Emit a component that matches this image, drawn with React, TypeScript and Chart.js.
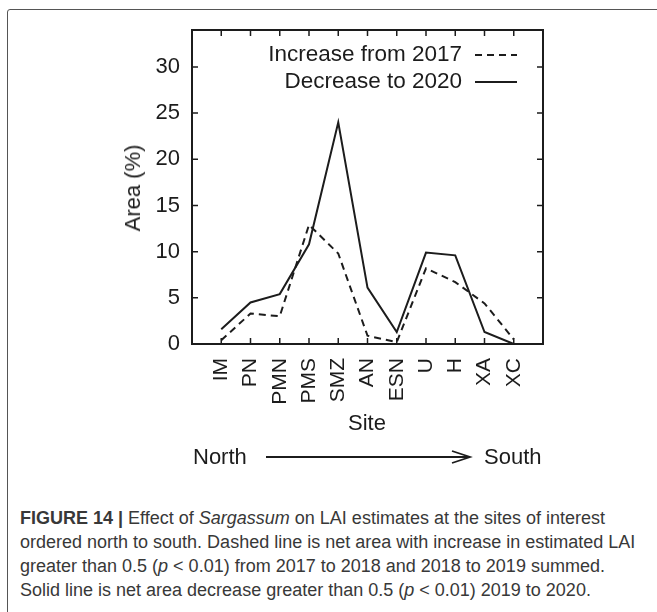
import React, { useEffect, useRef } from "react";
import { Chart, registerables } from "chart.js";

Chart.register(...registerables);

const sites = ["IM", "PN", "PMN", "PMS", "SMZ", "AN", "ESN", "U", "H", "XA", "XC"];
const increaseFrom2017 = [0.4, 3.3, 3.0, 12.9, 9.8, 0.9, 0.2, 8.2, 6.7, 4.4, 0.5];
const decreaseTo2020 = [1.6, 4.5, 5.4, 10.8, 24.0, 6.1, 1.3, 9.9, 9.6, 1.3, 0.0];
const yTicks = [0, 5, 10, 15, 20, 25, 30];
const legendLabels = ["Increase from 2017", "Decrease to 2020"];

const FONT = "'Liberation Sans', Arial, sans-serif";
const INK = "#1c1c1c";

const framePlugin = {
  id: "framePlugin",
  afterDraw(chart: any) {
    const { ctx, chartArea } = chart;
    const xs = chart.scales.x;
    const ys = chart.scales.y;
    const { left, right, top, bottom } = chartArea;
    ctx.save();
    ctx.strokeStyle = INK;
    ctx.lineWidth = 2;
    ctx.setLineDash([]);
    ctx.strokeRect(left, top, right - left, bottom - top);
    ctx.lineWidth = 1.5;
    const tl = 6;
    sites.forEach((_, i) => {
      const px = xs.getPixelForValue(i);
      ctx.beginPath();
      ctx.moveTo(px, bottom);
      ctx.lineTo(px, bottom - tl);
      ctx.moveTo(px, top);
      ctx.lineTo(px, top + tl);
      ctx.stroke();
    });
    yTicks.forEach((v) => {
      const py = ys.getPixelForValue(v);
      ctx.beginPath();
      ctx.moveTo(left, py);
      ctx.lineTo(left + tl, py);
      ctx.moveTo(right, py);
      ctx.lineTo(right - tl, py);
      ctx.stroke();
    });
    // legend
    ctx.font = `22.5px ${FONT}`;
    ctx.fillStyle = INK;
    ctx.textAlign = "right";
    ctx.textBaseline = "middle";
    const tx = right - 81;
    const rows = [top + 25, top + 52];
    legendLabels.forEach((lab, i) => {
      ctx.fillText(lab, tx, rows[i]);
      ctx.beginPath();
      ctx.lineWidth = 2;
      ctx.setLineDash(i === 0 ? [7, 5] : []);
      ctx.moveTo(right - 68, rows[i]);
      ctx.lineTo(right - 26, rows[i]);
      ctx.stroke();
    });
    ctx.restore();
  },
};

export default function App() {
  const ref = useRef<HTMLCanvasElement | null>(null);
  useEffect(() => {
    if (!ref.current) return;
    const chart = new Chart(ref.current, {
      type: "line",
      data: {
        datasets: [
          {
            label: legendLabels[0],
            data: increaseFrom2017.map((y, i) => ({ x: i, y })),
            borderColor: INK,
            borderWidth: 2,
            borderDash: [7, 5],
            pointRadius: 0,
            tension: 0,
            fill: false,
          },
          {
            label: legendLabels[1],
            data: decreaseTo2020.map((y, i) => ({ x: i, y })),
            borderColor: INK,
            borderWidth: 2,
            pointRadius: 0,
            tension: 0,
            fill: false,
          },
        ],
      },
      options: {
        animation: false,
        responsive: false,
        layout: { padding: { top: 30, right: 114, left: 0, bottom: 0 } },
        plugins: { legend: { display: false }, tooltip: { enabled: false } },
        scales: {
          x: {
            type: "linear",
            min: -1,
            max: 11,
            afterBuildTicks: (s: any) => {
              s.ticks = sites.map((_, i) => ({ value: i }));
            },
            afterFit: (s: any) => {
              s.height = 136;
            },
            grid: { display: false, drawTicks: false },
            border: { display: false },
            ticks: {
              autoSkip: false,
              maxRotation: 90,
              minRotation: 90,
              padding: 14,
              color: INK,
              font: { size: 21, family: FONT },
              callback: (v: any) => sites[v] ?? "",
            },
          },
          y: {
            min: 0,
            max: 34,
            afterBuildTicks: (s: any) => {
              s.ticks = yTicks.map((v) => ({ value: v }));
            },
            afterFit: (s: any) => {
              s.width = 192;
            },
            grid: { display: false, drawTicks: false },
            border: { display: false },
            ticks: {
              padding: 12,
              color: INK,
              font: { size: 22, family: FONT },
            },
          },
        },
      },
      plugins: [framePlugin],
    });
    return () => chart.destroy();
  }, []);

  const capStyle: React.CSSProperties = {
    position: "absolute",
    left: 20,
    whiteSpace: "nowrap",
    fontFamily: "'Liberation Sans Narrow', 'Liberation Sans', Arial, sans-serif",
    fontSize: 18,
    color: "#383838",
    lineHeight: "20px",
  };
  const textStyle: React.CSSProperties = {
    position: "absolute",
    fontFamily: FONT,
    fontSize: 22,
    color: INK,
    whiteSpace: "nowrap",
    lineHeight: "24px",
  };

  return (
    <div style={{ position: "absolute", left: 0, top: 0, width: 657, height: 612, background: "#fff", overflow: "hidden" }}>
      <div style={{ position: "absolute", left: 7, top: 9, width: 720, height: 720, border: "1.5px solid #555", borderRadius: 3 }} />
      <canvas ref={ref} width={657} height={480} style={{ position: "absolute", left: 0, top: 0 }} />
      <div style={{ ...textStyle, left: 133, top: 188, transform: "translate(-50%,-50%) rotate(-90deg)" }}>Area (%)</div>
      <div style={{ ...textStyle, left: 367, top: 423, transform: "translate(-50%,-50%)" }}>Site</div>
      <div style={{ ...textStyle, left: 193, top: 445 }}>North</div>
      <svg style={{ position: "absolute", left: 0, top: 0 }} width={657} height={480}>
        <line x1={266} y1={457} x2={469} y2={457} stroke={INK} strokeWidth={1.8} />
        <polyline points="452,451 470,457 452,463" fill="none" stroke={INK} strokeWidth={1.8} />
      </svg>
      <div style={{ ...textStyle, left: 484, top: 445 }}>South</div>
      <div style={{ ...capStyle, top: 508 }}>
        <b>FIGURE 14 |</b> Effect of <i>Sargassum</i> on LAI estimates at the sites of interest
      </div>
      <div style={{ ...capStyle, top: 532 }}>
        ordered north to south. Dashed line is net area with increase in estimated LAI
      </div>
      <div style={{ ...capStyle, top: 556 }}>
        greater than 0.5 (<i>p</i> &lt; 0.01) from 2017 to 2018 and 2018 to 2019 summed.
      </div>
      <div style={{ ...capStyle, top: 580 }}>
        Solid line is net area decrease greater than 0.5 (<i>p</i> &lt; 0.01) 2019 to 2020.
      </div>
    </div>
  );
}
